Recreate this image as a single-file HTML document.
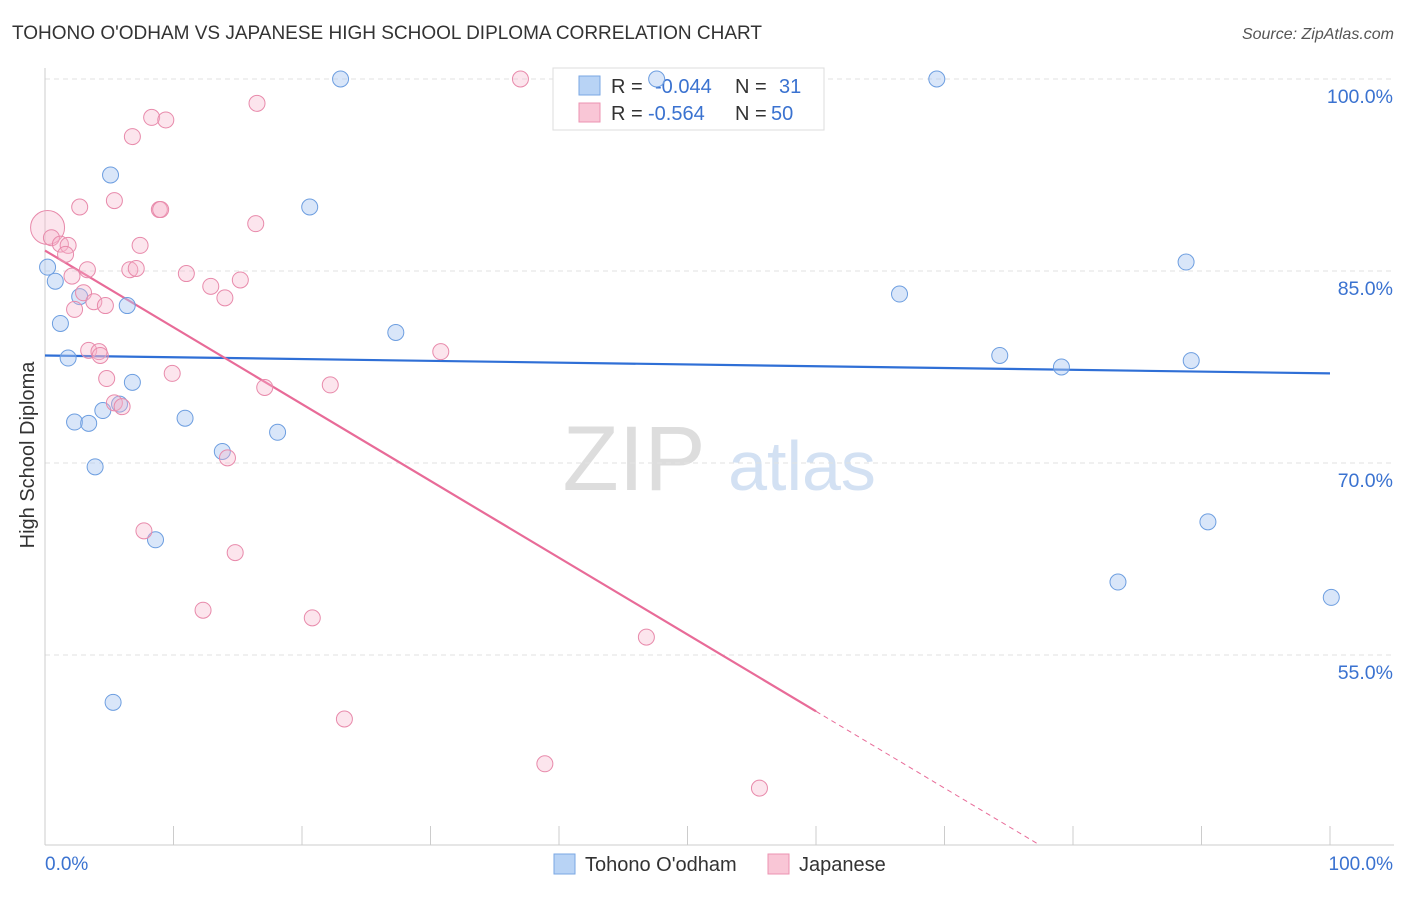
<!DOCTYPE html>
<html><head><meta charset="utf-8">
<style>
body{margin:0;background:#fff;font-family:"Liberation Sans",sans-serif;}
svg text{font-family:"Liberation Sans",sans-serif;}
</style></head>
<body>
<svg id="chart" width="1406" height="892" xmlns="http://www.w3.org/2000/svg">
<text x="12" y="39" font-size="19" fill="#333">TOHONO O'ODHAM VS JAPANESE HIGH SCHOOL DIPLOMA CORRELATION CHART</text>
<text x="1394" y="39" font-size="16" fill="#555" text-anchor="end" font-style="italic">Source: ZipAtlas.com</text>
<text transform="translate(34,455) rotate(-90)" font-size="20" fill="#333" text-anchor="middle">High School Diploma</text>
<g>
<text x="634" y="490" font-size="92" fill="#ddd" text-anchor="middle" font-family="Liberation Serif,serif">ZIP</text>
<text x="802" y="490" font-size="70" fill="#d3e1f3" text-anchor="middle">atlas</text>
</g>
<g id="grid"></g>
<g id="axes"></g>
<g id="lines"></g>
<g>
<rect x="553" y="68" width="271" height="62" fill="#fff" stroke="#ddd"/>
<rect x="579" y="76" width="21" height="19" fill="#b8d3f5" stroke="#7aa7e3"/>
<rect x="579" y="103" width="21" height="19" fill="#f9c6d6" stroke="#ec93b1"/>
<text x="611" y="93" font-size="20" fill="#333">R =</text>
<text x="655" y="93" font-size="20" fill="#3a72d0">-0.044</text>
<text x="735" y="93" font-size="20" fill="#333">N =</text>
<text x="779" y="93" font-size="20" fill="#3a72d0">31</text>
<text x="611" y="120" font-size="20" fill="#333">R =</text>
<text x="648" y="120" font-size="20" fill="#3a72d0">-0.564</text>
<text x="735" y="120" font-size="20" fill="#333">N =</text>
<text x="771" y="120" font-size="20" fill="#3a72d0">50</text>
</g>
<g id="pts"></g>
<g>
<rect x="554" y="854" width="21" height="20" fill="#b8d3f5" stroke="#7aa7e3"/>
<text x="585" y="871" font-size="20" fill="#333">Tohono O'odham</text>
<rect x="768" y="854" width="21" height="20" fill="#f9c6d6" stroke="#ec93b1"/>
<text x="799" y="871" font-size="20" fill="#333">Japanese</text>
</g>
</svg>
<script>
const blueX=[23.0,47.6,69.4,5.1,20.6,0.2,0.8,2.7,6.4,1.2,27.3,66.5,88.8,1.8,74.3,79.1,89.2,6.8,4.5,5.8,2.3,3.4,10.9,18.1,13.8,3.9,90.5,8.6,83.5,100.1,5.3];
const blueY=[100,100,100,92.5,90.0,85.3,84.2,83.0,82.3,80.9,80.2,83.2,85.7,78.2,78.4,77.5,78.0,76.3,74.1,74.6,73.2,73.1,73.5,72.4,70.9,69.7,65.4,64.0,60.7,59.5,51.3];
const pinkX=[37.0,16.5,8.3,9.4,6.8,5.4,2.7,8.9,9.0,16.4,0.2,0.5,1.2,1.8,7.4,1.6,3.3,6.6,7.1,2.1,11.0,15.2,12.9,3.0,14.0,3.8,4.7,2.3,3.4,4.2,4.3,30.8,9.9,4.8,17.1,22.2,5.4,6.0,14.2,7.7,14.8,12.3,20.8,46.8,23.3,38.9,55.6];
const pinkY=[100,98.1,97.0,96.8,95.5,90.5,90.0,89.8,89.8,88.7,88.4,87.6,87.1,87.0,87.0,86.3,85.1,85.1,85.2,84.6,84.8,84.3,83.8,83.3,82.9,82.6,82.3,82.0,78.8,78.7,78.4,78.7,77.0,76.6,75.9,76.1,74.7,74.4,70.4,64.7,63.0,58.5,57.9,56.4,50.0,46.5,44.6];
const blueTrend=[78.4,77.0];
const pinkTrend=[86.6,26.6];
const pinkSolidEnd=60;
const yTicks=[100,85,70,55];
const yTickLabels=["100.0%","85.0%","70.0%","55.0%"];
const xTicks=[0,10,20,30,40,50,60,70,80,90,100];

const NS="http://www.w3.org/2000/svg";
const X=v=>45+v*12.85, Y=v=>79+(100-v)*12.8;
function mk(p,t,a){const e=document.createElementNS(NS,t);for(const k in a)e.setAttribute(k,a[k]);document.getElementById(p).appendChild(e);return e;}
yTicks.forEach((t,i)=>{
 const l=mk('grid','line',{x1:45,x2:1394,y1:Y(t),y2:Y(t),stroke:'#e2e2e2','stroke-dasharray':'5,4'});
 
 
 const tx=mk('grid','text',{x:1393,y:Y(t)+24,'font-size':19.5,fill:'#3a72d0','text-anchor':'end'});
 tx.textContent=yTickLabels[i];
 
 
});
let a=mk('axes','line',{x1:45,x2:45,y1:68,y2:845,stroke:'#ccc'});


a=mk('axes','line',{x1:45,x2:1394,y1:845,y2:845,stroke:'#ccc'});


xTicks.forEach(t=>{const l=mk('axes','line',{x1:X(t),x2:X(t),y1:826,y2:845,stroke:'#ccc'});
 
 });
let t0=mk('axes','text',{x:45,y:870,'font-size':19,fill:'#3a72d0'});t0.textContent='0.0%';


let t1=mk('axes','text',{x:1393,y:870,'font-size':19,fill:'#3a72d0','text-anchor':'end'});t1.textContent='100.0%';



blueX.forEach((x,i)=>{const c=mk('pts','circle',{cx:X(x),cy:Y(blueY[i]),r:8,fill:'rgba(170,200,242,0.45)',stroke:'#6d9ee0','stroke-width':1});
 
 });
pinkX.forEach((x,i)=>{const c=mk('pts','circle',{cx:X(x),cy:Y(pinkY[i]),r:(i==10?17:8),fill:'rgba(246,180,204,0.35)',stroke:'#e88aab','stroke-width':1});
 
 });

const pl=x=>pinkTrend[0]+(pinkTrend[1]-pinkTrend[0])*x/100;
let l=mk('lines','line',{x1:X(0),y1:Y(blueTrend[0]),x2:X(100),y2:Y(blueTrend[1]),stroke:'#2f6fd6','stroke-width':2.2});


l=mk('lines','line',{x1:X(0),y1:Y(pl(0)),x2:X(pinkSolidEnd),y2:Y(pl(pinkSolidEnd)),stroke:'#e86b98','stroke-width':2.2});


const xe=(pinkTrend[0]-40.2)/((pinkTrend[0]-pinkTrend[1])/100);
l=mk('lines','line',{x1:X(pinkSolidEnd),y1:Y(pl(pinkSolidEnd)),x2:X(xe),y2:Y(pl(xe)),stroke:'#e86b98','stroke-width':1,'stroke-dasharray':'5,4'});


</script>
</body></html>
